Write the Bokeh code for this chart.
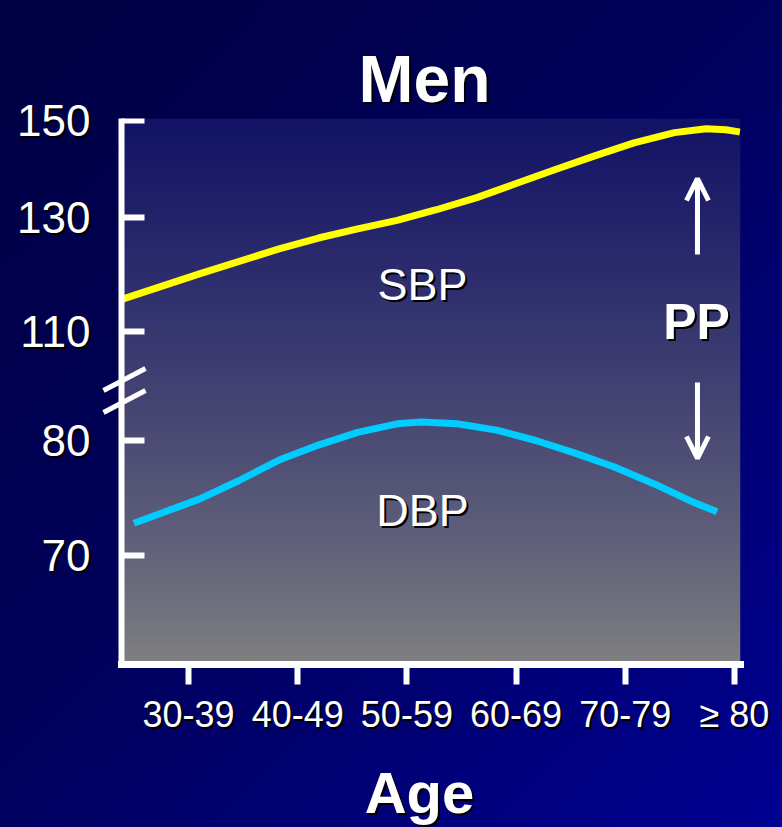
import numpy as np
from bokeh.plotting import figure
from bokeh.models import Range1d, FixedTicker, Label, Arrow, OpenHead, LinearAxis, Title
from bokeh.embed import file_html
from bokeh.resources import INLINE

# ---------------- data ----------------
TITLE = "Men"
X_LABEL = "Age"
AGE_GROUPS = ["30-39", "40-49", "50-59", "60-69", "70-79", "\u2265 80"]
AGE_MIDS = [35, 45, 55, 65, 75, 85]

Y_TICK_VALUES = [70, 80, 110, 130, 150]
# broken axis: height (px above plot bottom) of each tick
Y_TICK_HEIGHTS = [109, 224, 333, 447, 544]

SBP_AGE = [28.9, 29.3, 36.0, 43.3, 46.9, 50.5, 54.1, 57.7, 61.4, 65.0, 68.6,
           72.2, 75.8, 79.5, 82.4, 84.2, 85.3, 85.5]
SBP = [115.6, 115.9, 120.1, 124.5, 126.4, 128.0, 129.5, 131.6, 134.1, 137.0, 139.9,
       142.7, 145.4, 147.5, 148.3, 148.1, 147.7, 147.6]

DBP_AGE = [30.0, 36.0, 39.6, 43.3, 46.9, 50.5, 54.1, 56.3, 59.6, 63.2, 66.8,
           70.4, 74.0, 77.7, 81.3, 83.4]
DBP = [72.8, 74.9, 76.5, 78.3, 79.6, 80.7, 81.45, 81.6, 81.45, 80.9, 80.0,
       78.9, 77.7, 76.2, 74.6, 73.8]

SERIES_LABELS = ["SBP", "DBP", "PP"]


def to_axis(v):
    """Map a blood-pressure value onto the broken y axis."""
    v = np.asarray(v, dtype=float)
    (v0, v1), (h0, h1) = Y_TICK_VALUES[:2], Y_TICK_HEIGHTS[:2]
    lower = h0 + (v - v0) * (h1 - h0) / (v1 - v0)
    upper = np.interp(v, Y_TICK_VALUES[2:], Y_TICK_HEIGHTS[2:])
    return np.where(v < 95, lower, upper)


X0, X1 = 28.865, 85.55       # extent of the shaded plot area (ages)
XL = 26.76                   # range start, leaves room for the axis-break marks
FRAME_H = 546
FONT = "Liberation Sans"

p = figure(width=782, height=827, x_range=Range1d(XL, X1), y_range=Range1d(0, FRAME_H),
           output_backend="svg", toolbar_location=None,
           min_border_left=98, min_border_right=42, min_border_top=118, min_border_bottom=163)

p.border_fill_color = None
p.background_fill_color = None
p.outline_line_color = None
p.grid.visible = False
p.styles = {
    "background": "linear-gradient(135deg, #000042 0%, #00005a 45%, #000092 100%)",
    "text-shadow": "2px 2px 0px #000000",
}

# plot-area gradient (grey at bottom, navy at top)
n = 273
f = np.linspace(0, 1, n) ** 0.8
top = np.array([18, 18, 102])
bot = np.array([130, 130, 130])
img = np.zeros((n, 1), dtype=np.uint32)
view = img.view(dtype=np.uint8).reshape((n, 1, 4))
for k in range(3):
    view[:, 0, k] = np.round(bot[k] + (top[k] - bot[k]) * f).astype(np.uint8)
view[:, 0, 3] = 255
p.image_rgba(image=[img], x=X0, y=0, dw=X1 - X0, dh=FRAME_H)

# curves
p.line(SBP_AGE, to_axis(SBP), line_color="#ffff00", line_width=7, line_join="round")
p.line(DBP_AGE, to_axis(DBP), line_color="#00ccff", line_width=7, line_join="round")

# axis-break marks
p.segment(x0=[27.217, 27.217], y0=[274, 252], x1=[31.063, 31.063], y1=[296, 274],
          line_color="white", line_width=5)

# y axis: labels in the left panel ...
yax = p.yaxis[0]
yax.ticker = FixedTicker(ticks=Y_TICK_HEIGHTS)
yax.major_label_overrides = {h: str(v) for h, v in zip(Y_TICK_HEIGHTS, Y_TICK_VALUES)}
yax.axis_line_color = None
yax.major_tick_line_color = None
yax.major_tick_in = 0
yax.major_tick_out = 0
yax.minor_tick_line_color = None
yax.major_label_text_color = "white"
yax.major_label_text_font = FONT
yax.major_label_text_font_size = "44px"
yax.major_label_standoff = 8

# ... and its line and inward ticks at the edge of the shaded area
yline = LinearAxis(fixed_location=X0, ticker=FixedTicker(ticks=Y_TICK_HEIGHTS),
                   major_label_overrides={h: "" for h in Y_TICK_HEIGHTS},
                   axis_line_color="white", axis_line_width=6, axis_line_cap="square",
                   major_tick_line_color="white", major_tick_line_width=6,
                   major_tick_in=23, major_tick_out=0, minor_tick_line_color=None)
p.add_layout(yline, "left")

xax = p.xaxis[0]
xax.bounds = (X0, X1)
xax.ticker = FixedTicker(ticks=AGE_MIDS)
xax.major_label_overrides = {m: g for m, g in zip(AGE_MIDS, AGE_GROUPS)}
xax.axis_line_color = "white"
xax.axis_line_width = 7
xax.axis_line_cap = "square"
xax.major_tick_line_color = "white"
xax.major_tick_line_width = 6
xax.major_tick_in = 0
xax.major_tick_out = 20
xax.minor_tick_line_color = None
xax.major_label_text_color = "white"
xax.major_label_text_font = FONT
xax.major_label_text_font_size = "36px"
xax.major_label_standoff = 9
xax.axis_label = X_LABEL
xax.axis_label_text_color = "white"
xax.axis_label_text_font = FONT
xax.axis_label_text_font_style = "bold"
xax.axis_label_text_font_size = "58px"
xax.axis_label_standoff = 22

# tick-less spacer next to the plot area, then the title outside it
p.title.text = ""
spacer = LinearAxis(ticker=FixedTicker(ticks=[]), axis_line_color=None,
                    major_tick_line_color="white", minor_tick_line_color=None,
                    major_tick_in=0, major_tick_out=42, major_label_standoff=0,
                    axis_label_standoff=0)
p.add_layout(spacer, "above")
p.add_layout(Title(text=TITLE, align="left", offset=260, vertical_align="top", standoff=2,
                   text_color="white", text_font=FONT, text_font_style="bold",
                   text_font_size="66px"), "above")

# labels
p.add_layout(Label(x=56.43, y=380, text=SERIES_LABELS[0], text_align="center", text_baseline="middle",
                   text_color="white", text_font=FONT, text_font_size="45px"))
p.add_layout(Label(x=56.43, y=154, text=SERIES_LABELS[1], text_align="center", text_baseline="middle",
                   text_color="white", text_font=FONT, text_font_size="45px"))
p.add_layout(Label(x=81.52, y=343, text=SERIES_LABELS[2], text_align="center", text_baseline="middle",
                   text_color="white", text_font=FONT, text_font_size="50px", text_font_style="bold"))

# pulse-pressure arrows
p.add_layout(Arrow(end=OpenHead(size=22, line_color="white", line_width=5),
                   x_start=81.61, y_start=410, x_end=81.61, y_end=486,
                   line_color="white", line_width=5))
p.add_layout(Arrow(end=OpenHead(size=22, line_color="white", line_width=5),
                   x_start=81.61, y_start=282, x_end=81.61, y_end=206,
                   line_color="white", line_width=5))

open("out.html", "w").write(file_html(p, INLINE))
